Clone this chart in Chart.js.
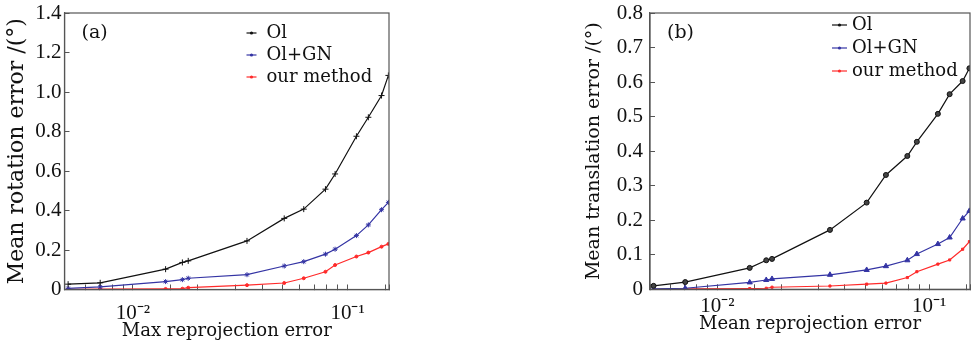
<!DOCTYPE html>
<html>
<head>
<meta charset="utf-8">
<script src="https://cdn.jsdelivr.net/npm/chart.js@4.4.0/dist/chart.umd.min.js"></script>
<style>
body { margin: 0; background: #fff; width: 975px; height: 345px; overflow: hidden; position: relative; }
.box { position: absolute; top: 0; height: 345px; }
</style>
</head>
<body>
<div class="box" style="left:0;width:400px"><canvas id="chartA" width="400" height="345"></canvas></div>
<div class="box" style="left:540px;width:435px"><canvas id="chartB" width="435" height="345"></canvas></div>
<script>
// reprojection error levels (same for both panels)
var xValues = [0.00499, 0.00704, 0.0142, 0.0170, 0.0181, 0.0340, 0.0507, 0.0625, 0.0789, 0.0875, 0.110, 0.125, 0.144, 0.155];

// (a) mean rotation error
var rotOI = [0.027, 0.034, 0.103, 0.137, 0.145, 0.246, 0.360, 0.407, 0.508, 0.585, 0.776, 0.872, 0.982, 1.084];
var rotGN = [0.006, 0.013, 0.040, 0.050, 0.057, 0.075, 0.119, 0.141, 0.179, 0.204, 0.273, 0.327, 0.404, 0.441];
var rotOur = [0.001, 0.002, 0.003, 0.004, 0.009, 0.022, 0.033, 0.057, 0.090, 0.124, 0.167, 0.187, 0.217, 0.231];

// (b) mean translation error
var traOI = [0.010, 0.021, 0.062, 0.084, 0.088, 0.172, 0.251, 0.331, 0.386, 0.427, 0.508, 0.565, 0.603, 0.640];
var traGN = [0.001, 0.003, 0.020, 0.027, 0.030, 0.042, 0.056, 0.067, 0.084, 0.102, 0.131, 0.150, 0.205, 0.227];
var traOur = [0.000, 0.001, 0.002, 0.003, 0.006, 0.0095, 0.015, 0.018, 0.034, 0.051, 0.073, 0.085, 0.116, 0.138];

var seriesNames = ["Ol", "Ol+GN", "our method"];
var lineColors = ["#111111", "#3434a4", "#ff2a2a"];

var FONT = '"Liberation Serif", serif';
var TFONT = '"DejaVu Serif", serif';
var supMap = { "-": "\u207B", "1": "\u00B9", "2": "\u00B2", "3": "\u00B3" };

function toPoints(ys) {
    return ys.map(function(y, i) { return { x: xValues[i], y: y }; });
}

// frame, panel tag and legend drawn inside the plot area
var framePlugin = {
    id: "frame",
    afterDatasetsDraw: function(chart, args, opts) {
        var a = chart.chartArea, ctx = chart.ctx;
        ctx.save();
        ctx.strokeStyle = "#555";
        ctx.lineWidth = 1.2;
        ctx.strokeRect(a.left, a.top, a.right - a.left, a.bottom - a.top);

        ctx.fillStyle = "#111";
        ctx.font = "19px " + TFONT;
        ctx.textBaseline = "middle";
        ctx.fillText(opts.tag, a.left + 17, a.top + 20);

        chart.data.datasets.forEach(function(ds, i) {
            var y = a.top + opts.legendTop + i * opts.legendStep;
            var x0 = a.left + opts.legendLeft;
            ctx.strokeStyle = ds.borderColor;
            ctx.lineWidth = 1.2;
            ctx.beginPath();
            ctx.moveTo(x0, y);
            ctx.lineTo(x0 + opts.sampleWidth, y);
            ctx.stroke();
            ctx.fillStyle = ds.borderColor;
            ctx.beginPath();
            ctx.arc(x0 + opts.sampleWidth / 2, y, 1.6, 0, Math.PI * 2);
            ctx.fill();
            ctx.fillStyle = "#111";
            ctx.font = "18px " + TFONT;
            ctx.fillText(ds.label, x0 + opts.sampleWidth + opts.textGap, y);
        });
        ctx.restore();
    }
};

function makeDatasets(ys, styles, sizes) {
    return ys.map(function(arr, i) {
        return {
            label: seriesNames[i],
            data: toPoints(arr),
            showLine: true,
            borderColor: lineColors[i],
            backgroundColor: lineColors[i],
            borderWidth: 1.2,
            pointStyle: styles[i],
            pointRadius: sizes[i],
            pointBorderWidth: 1,
            pointBackgroundColor: i === 0 ? "#444" : lineColors[i],
            tension: 0
        };
    });
}

function makeChart(id, datasets, cfg) {
    return new Chart(id, {
        type: "scatter",
        data: { datasets: datasets },
        options: {
            responsive: false,
            animation: false,
            layout: { padding: { top: 13, right: cfg.rightPad, bottom: 0, left: 0 } },
            plugins: {
                legend: { display: false },
                tooltip: { enabled: false },
                frame: cfg.frame
            },
            scales: {
                x: {
                    type: "logarithmic",
                    min: 0.0048,
                    max: 0.156,
                    afterFit: function(s) {
                        s.height = cfg.xHeight;
                        s.paddingLeft = 0;
                        s.paddingRight = 0;
                    },
                    border: { display: true, color: "#555", width: 1.2 },
                    grid: { display: true, drawOnChartArea: false, drawTicks: true, tickLength: -5, color: "#555" },
                    ticks: {
                        autoSkip: false,
                        maxRotation: 0,
                        padding: cfg.xTickPad,
                        color: "#111",
                        font: { family: FONT, size: 21 },
                        callback: function(v) {
                            var e = Math.log10(v);
                            if (Math.abs(e - Math.round(e)) < 1e-6) {
                                var p = String(Math.round(e)).split("").map(function(c) { return supMap[c]; }).join("");
                                return "10" + p;
                            }
                            return "";
                        }
                    },
                    title: {
                        display: true,
                        text: cfg.xTitle,
                        color: "#111",
                        font: { family: TFONT, size: 18 },
                        padding: { top: 0, bottom: cfg.xTitlePad }
                    }
                },
                y: {
                    min: 0,
                    max: cfg.yMax,
                    afterFit: function(s) {
                        s.width = cfg.yWidth;
                        s.paddingTop = 0;
                        s.paddingBottom = 0;
                    },
                    border: { display: true, color: "#555", width: 1.2 },
                    grid: { display: true, drawOnChartArea: false, drawTicks: true, tickLength: -5, color: "#555" },
                    ticks: {
                        stepSize: cfg.yStep,
                        padding: cfg.yTickPad,
                        color: "#111",
                        font: { family: FONT, size: 21 },
                        callback: function(v) { return v === 0 ? "0" : v.toFixed(1); }
                    },
                    title: {
                        display: true,
                        text: cfg.yTitle,
                        color: "#111",
                        font: { family: TFONT, size: cfg.yTitleSize },
                        padding: { top: cfg.yTitlePad, bottom: 0 }
                    }
                }
            }
        },
        plugins: [framePlugin]
    });
}

makeChart("chartA",
    makeDatasets([rotOI, rotGN, rotOur], ["cross", "star", "circle"], [3, 2.5, 1.5]),
    {
        xTitle: "Max reprojection error",
        yTitle: "Mean rotation error /(\u00B0)",
        xHeight: 55.5, xTickPad: 16, xTitlePad: 3,
        yMax: 1.4, yStep: 0.2, yWidth: 64.5, yTickPad: 8, yTitlePad: 4, yTitleSize: 22, rightPad: 11,
        frame: { tag: "(a)", legendLeft: 182, legendTop: 20, legendStep: 22, sampleWidth: 10, textGap: 10 }
    });

makeChart("chartB",
    makeDatasets([traOI, traGN, traOur], ["circle", "triangle", "rect"], [2.5, 3, 1.5]),
    {
        xTitle: "Mean reprojection error",
        yTitle: "Mean translation error /(\u00B0)",
        xHeight: 55.7, xTickPad: 10, xTitlePad: 10,
        yMax: 0.8, yStep: 0.1, yWidth: 110, yTickPad: 12, yTitlePad: 43, yTitleSize: 19, rightPad: 1,
        frame: { tag: "(b)", legendLeft: 182, legendTop: 12, legendStep: 23, sampleWidth: 15, textGap: 5 }
    });
</script>
</body>
</html>
